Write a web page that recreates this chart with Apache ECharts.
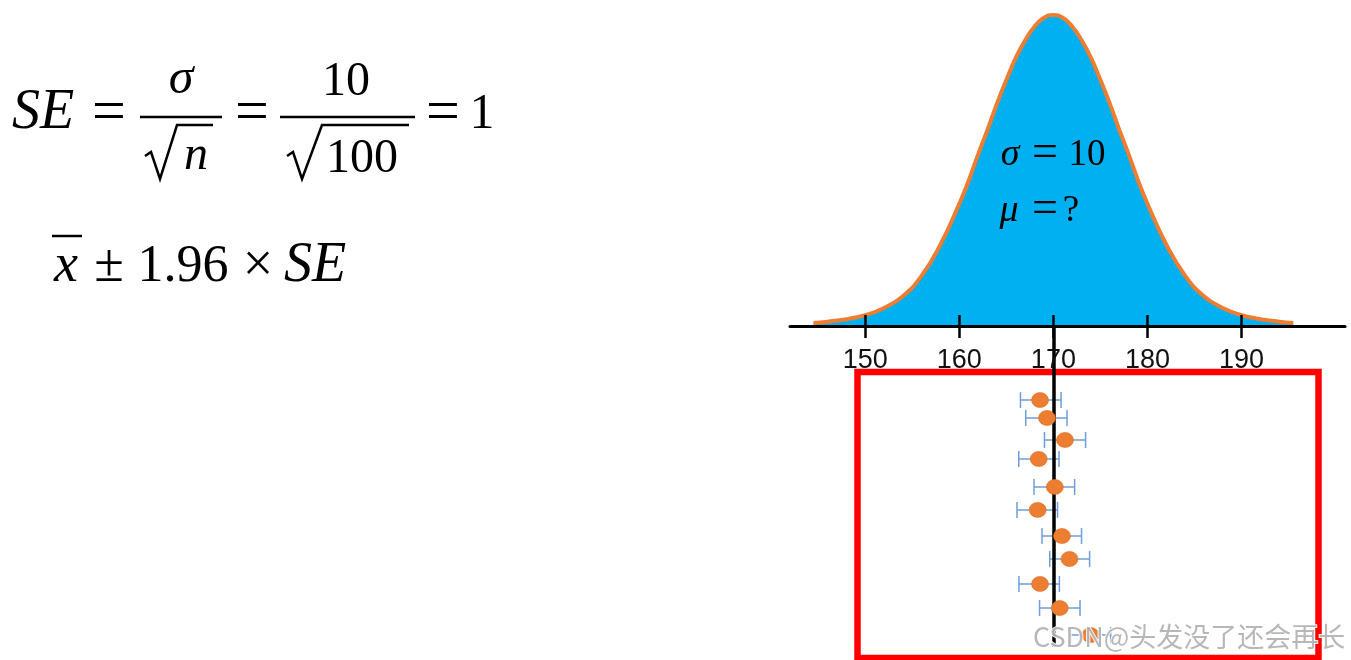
<!DOCTYPE html>
<html>
<head>
<meta charset="utf-8">
<script src="https://cdn.jsdelivr.net/npm/echarts@6/dist/echarts.min.js"></script>
<style>
html,body{margin:0;padding:0;background:#fff;}
#chart{width:1351px;height:660px;}
</style>
</head>
<body>
<div id="chart"></div>
<script>
// ---- data ----
const curveX = [144.5,146,148,150,152,154,156,158,160,161,162,163,164,165,166,167,168,169,170,171,172,173,174,175,176,177,178,179,180,182,184,186,188,190,192,194,195.5];
const curveY = [0.010,0.014,0.022,0.035,0.058,0.096,0.162,0.262,0.393,0.468,0.552,0.631,0.715,0.791,0.862,0.919,0.963,0.991,1.000,0.991,0.963,0.919,0.862,0.791,0.715,0.631,0.552,0.468,0.393,0.262,0.162,0.096,0.058,0.035,0.022,0.014,0.010];
const tickValues = [150,160,170,180,190];
const sampleMeans = [168.58,169.32,171.23,168.44,170.15,168.33,170.91,171.71,168.58,170.67,173.95];
const ciLow  = [166.50,167.06,169.05,166.32,167.94,166.13,168.79,169.61,166.34,168.53,171.82];
const ciHigh = [170.81,171.45,173.42,170.60,172.26,170.44,172.99,173.85,170.64,172.83,176.09];
const sampleRows = [3.23,4.01,4.97,5.80,7.02,8.02,9.16,10.16,11.25,12.30,13.48];
const trueMean = 170;

const curveData = curveX.map((x,i)=>[x,curveY[i]]);
const barData = ciLow.map((lo,i)=>[lo,ciHigh[i],sampleRows[i]]);
const dotData = sampleMeans.map((m,i)=>[m,sampleRows[i]]);

const SERIF = '"Liberation Serif","Times New Roman",serif';
function t(text,x,y,size,italic,extra){
  return Object.assign({type:'text',x:x,y:y,z:10,style:{text:text,font:(italic?'italic ':'')+size+'px '+SERIF,fill:'#000',align:'center',verticalAlign:'middle'}},extra||{});
}
function ln(x1,y1,x2,y2,w){
  return {type:'line',z:10,shape:{x1:x1,y1:y1,x2:x2,y2:y2},style:{stroke:'#000',lineWidth:w||2.5}};
}
function rad(pts){
  return {type:'polyline',z:10,shape:{points:pts},style:{stroke:'#000',lineWidth:2.5,fill:null,lineJoin:'miter'}};
}

const chart = echarts.init(document.getElementById('chart'),null,{renderer:'canvas'});
const option = {
  animation:false,
  backgroundColor:'#fff',
  grid:[
    {left:790,right:6,top:15,bottom:334,containLabel:false},
    {left:790,right:6,top:326,bottom:13,containLabel:false}
  ],
  xAxis:[
    {gridIndex:0,type:'value',min:142,max:201,position:'bottom',z:10,
     axisLine:{show:true,lineStyle:{color:'#000',width:3}},
     axisTick:{show:true,customValues:tickValues,length:12,lineStyle:{color:'#000',width:2.5}},
     axisLabel:{show:true,customValues:tickValues,margin:21,fontSize:27,color:'#111',fontFamily:'"Liberation Sans",Arial,sans-serif'},
     splitLine:{show:false}},
    {gridIndex:1,type:'value',min:142,max:201,position:'top',z:10,
     axisLine:{show:false},
     axisTick:{show:true,customValues:tickValues,length:11,lineStyle:{color:'#000',width:2.5}},
     axisLabel:{show:false},
     splitLine:{show:false}}
  ],
  yAxis:[
    {gridIndex:0,type:'value',min:0,max:1,show:false},
    {gridIndex:1,type:'value',min:0,max:14,inverse:true,show:false}
  ],
  graphic:{elements:[
    {type:'rect',z:0,shape:{x:857.5,y:372,width:461,height:286},style:{fill:null,stroke:'#ff0000',lineWidth:6.5}},
    // SE = sigma/sqrt(n) = 10/sqrt(100) = 1
    t('SE',43,113,56,true),
    t('=',109,114,60,false),
    t('σ',181,80,50,true),
    ln(140,117,222,117),
    rad([[145,156],[151,152],[160,179],[177,125],[213,125]]),
    t('n',196,156,48,true),
    t('=',252,114,60,false),
    t('10',346,82,48,false),
    ln(280,117,415,117),
    rad([[287,156],[293,152],[302,179],[322,125],[409,125]]),
    t('100',362,159,48,false),
    t('=',443,114,60,false),
    t('1',482,115,50,false),
    // x-bar ± 1.96 × SE
    t('x',66,267,54,true),
    ln(52,236,82,236),
    t('±',109,267,54,false),
    t('1.96',183,267,52,false),
    t('×',258,267,54,false),
    t('SE',315,266,56,true),
    // inside curve
    t('σ',1010,155,38,true),
    t('=',1045,154,46,false),
    t('10',1087,155,37,false),
    t('μ',1009,211,38,true),
    t('=',1045,210,46,false),
    t('?',1071,211,37,false),
    // watermark
    {type:'text',x:1033,y:637,z:100,style:{text:'CSDN@头发没了还会再长',font:'27px "Noto Sans CJK SC","Noto Sans",sans-serif',fill:'rgba(170,170,170,0.85)',stroke:'rgba(255,255,255,0.9)',lineWidth:2,align:'left',verticalAlign:'middle'}}
  ]},
  series:[
    {type:'line',xAxisIndex:0,yAxisIndex:0,data:curveData,smooth:true,showSymbol:false,
     lineStyle:{color:'#ED7D31',width:4},areaStyle:{color:'#00B0F0',opacity:1},z:3},
    {type:'custom',xAxisIndex:1,yAxisIndex:1,data:barData,z:4,
     renderItem:function(params,api){
       const a=api.coord([api.value(0),api.value(2)]);
       const b=api.coord([api.value(1),api.value(2)]);
       const h=8;
       const st={stroke:'#6f9fd8',lineWidth:1.5};
       return {type:'group',children:[
         {type:'line',shape:{x1:a[0],y1:a[1],x2:b[0],y2:b[1]},style:st},
         {type:'line',shape:{x1:a[0],y1:a[1]-h,x2:a[0],y2:a[1]+h},style:st},
         {type:'line',shape:{x1:b[0],y1:b[1]-h,x2:b[0],y2:b[1]+h},style:st}
       ]};
     }},
    {type:'scatter',xAxisIndex:1,yAxisIndex:1,data:dotData,symbol:'circle',symbolSize:[17,15],
     itemStyle:{color:'#ED7D31',borderColor:'#d8691f',borderWidth:0.6,opacity:1},z:6,
     markLine:{silent:true,symbol:['none','none'],label:{show:false},
       lineStyle:{color:'#000',width:3.5,type:'solid'},
       data:[{xAxis:trueMean}],z:5}}
  ]
};
chart.setOption(option);
</script>
</body>
</html>
